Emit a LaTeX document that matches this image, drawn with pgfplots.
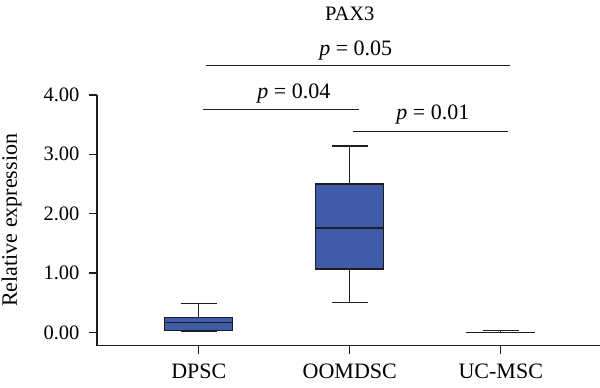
\documentclass[border=0pt]{standalone}
\usepackage{pgfplots}
\pgfplotsset{compat=1.18}
\usepgfplotslibrary{statistics}
\usepackage{fontspec}
\setmainfont{Liberation Serif}
\definecolor{boxblue}{RGB}{63,91,169}
\definecolor{ln}{RGB}{30,30,30}
\begin{document}
\begin{tikzpicture}
\useasboundingbox (-97pt,-42.3pt) rectangle (503pt,345.7pt);
\begin{axis}[
  at={(0pt,0pt)}, anchor=south west,
  x=151pt, y=59.4pt,
  xmin=-0.674, xmax=2.66,
  ymin=-0.222, ymax=4,
  axis x line*=bottom, axis y line*=left,
  axis line style={line width=1.3pt, ln},
  every tick/.style={line width=1.3pt, ln},
  tick align=outside,
  major tick length=8pt,
  xtick={0,1,2},
  xticklabels={DPSC,OOMDSC,UC-MSC},
  ytick={0,1,2,3,4},
  yticklabel style={xshift=-6pt, font=\fontsize{20.5}{22}\selectfont,
    /pgf/number format/fixed, /pgf/number format/fixed zerofill,
    /pgf/number format/precision=2, /pgf/number format/assume math mode=true},
  xticklabel style={font=\fontsize{22}{24}\selectfont, yshift=-7pt},
  ylabel={Relative expression},
  every axis y label/.style={at={(axis description cs:0,0.5)}, rotate=90, anchor=south, yshift=72pt, font=\fontsize{22}{24}\selectfont},
  clip=false,
  boxplot/draw direction=y,
  boxplot/box extend=0.45,
  boxplot/whisker extend=0.24,
]
\addplot+[boxplot prepared={draw position=0, lower whisker=0.01, lower quartile=0.04, median=0.165, upper quartile=0.26, upper whisker=0.49},
  draw=ln, line width=1.1pt, fill=boxblue, solid, mark=none] coordinates {};
\addplot+[boxplot prepared={draw position=1, lower whisker=0.51, lower quartile=1.07, median=1.76, upper quartile=2.50, upper whisker=3.14},
  draw=ln, line width=1.1pt, fill=boxblue, solid, mark=none] coordinates {};
\addplot+[boxplot prepared={draw position=2, lower whisker=0.0, lower quartile=0.0, median=0.002, upper quartile=0.004, upper whisker=0.028},
  draw=ln, line width=1.1pt, fill=boxblue, solid, mark=none] coordinates {};
% significance bars
\draw[ln, line width=1.2pt] (axis cs:0.05,4.49) -- (axis cs:2.06,4.49);
\draw[ln, line width=1.2pt] (axis cs:0.026,3.76) -- (axis cs:1.06,3.76);
\draw[ln, line width=1.2pt] (axis cs:1.02,3.38) -- (axis cs:2.05,3.38);
\node[anchor=base, font=\fontsize{22}{24}\selectfont] at (axis cs:1.04,4.67) {\textit{p} = 0.05};
\node[anchor=base, font=\fontsize{22}{24}\selectfont] at (axis cs:0.63,3.94) {\textit{p} = 0.04};
\node[anchor=base, font=\fontsize{22}{24}\selectfont] at (axis cs:1.55,3.59) {\textit{p} = 0.01};
\node[anchor=base, font=\fontsize{20.5}{22}\selectfont] at (axis cs:1.0,5.26) {PAX3};
\end{axis}
\end{tikzpicture}
\end{document}
